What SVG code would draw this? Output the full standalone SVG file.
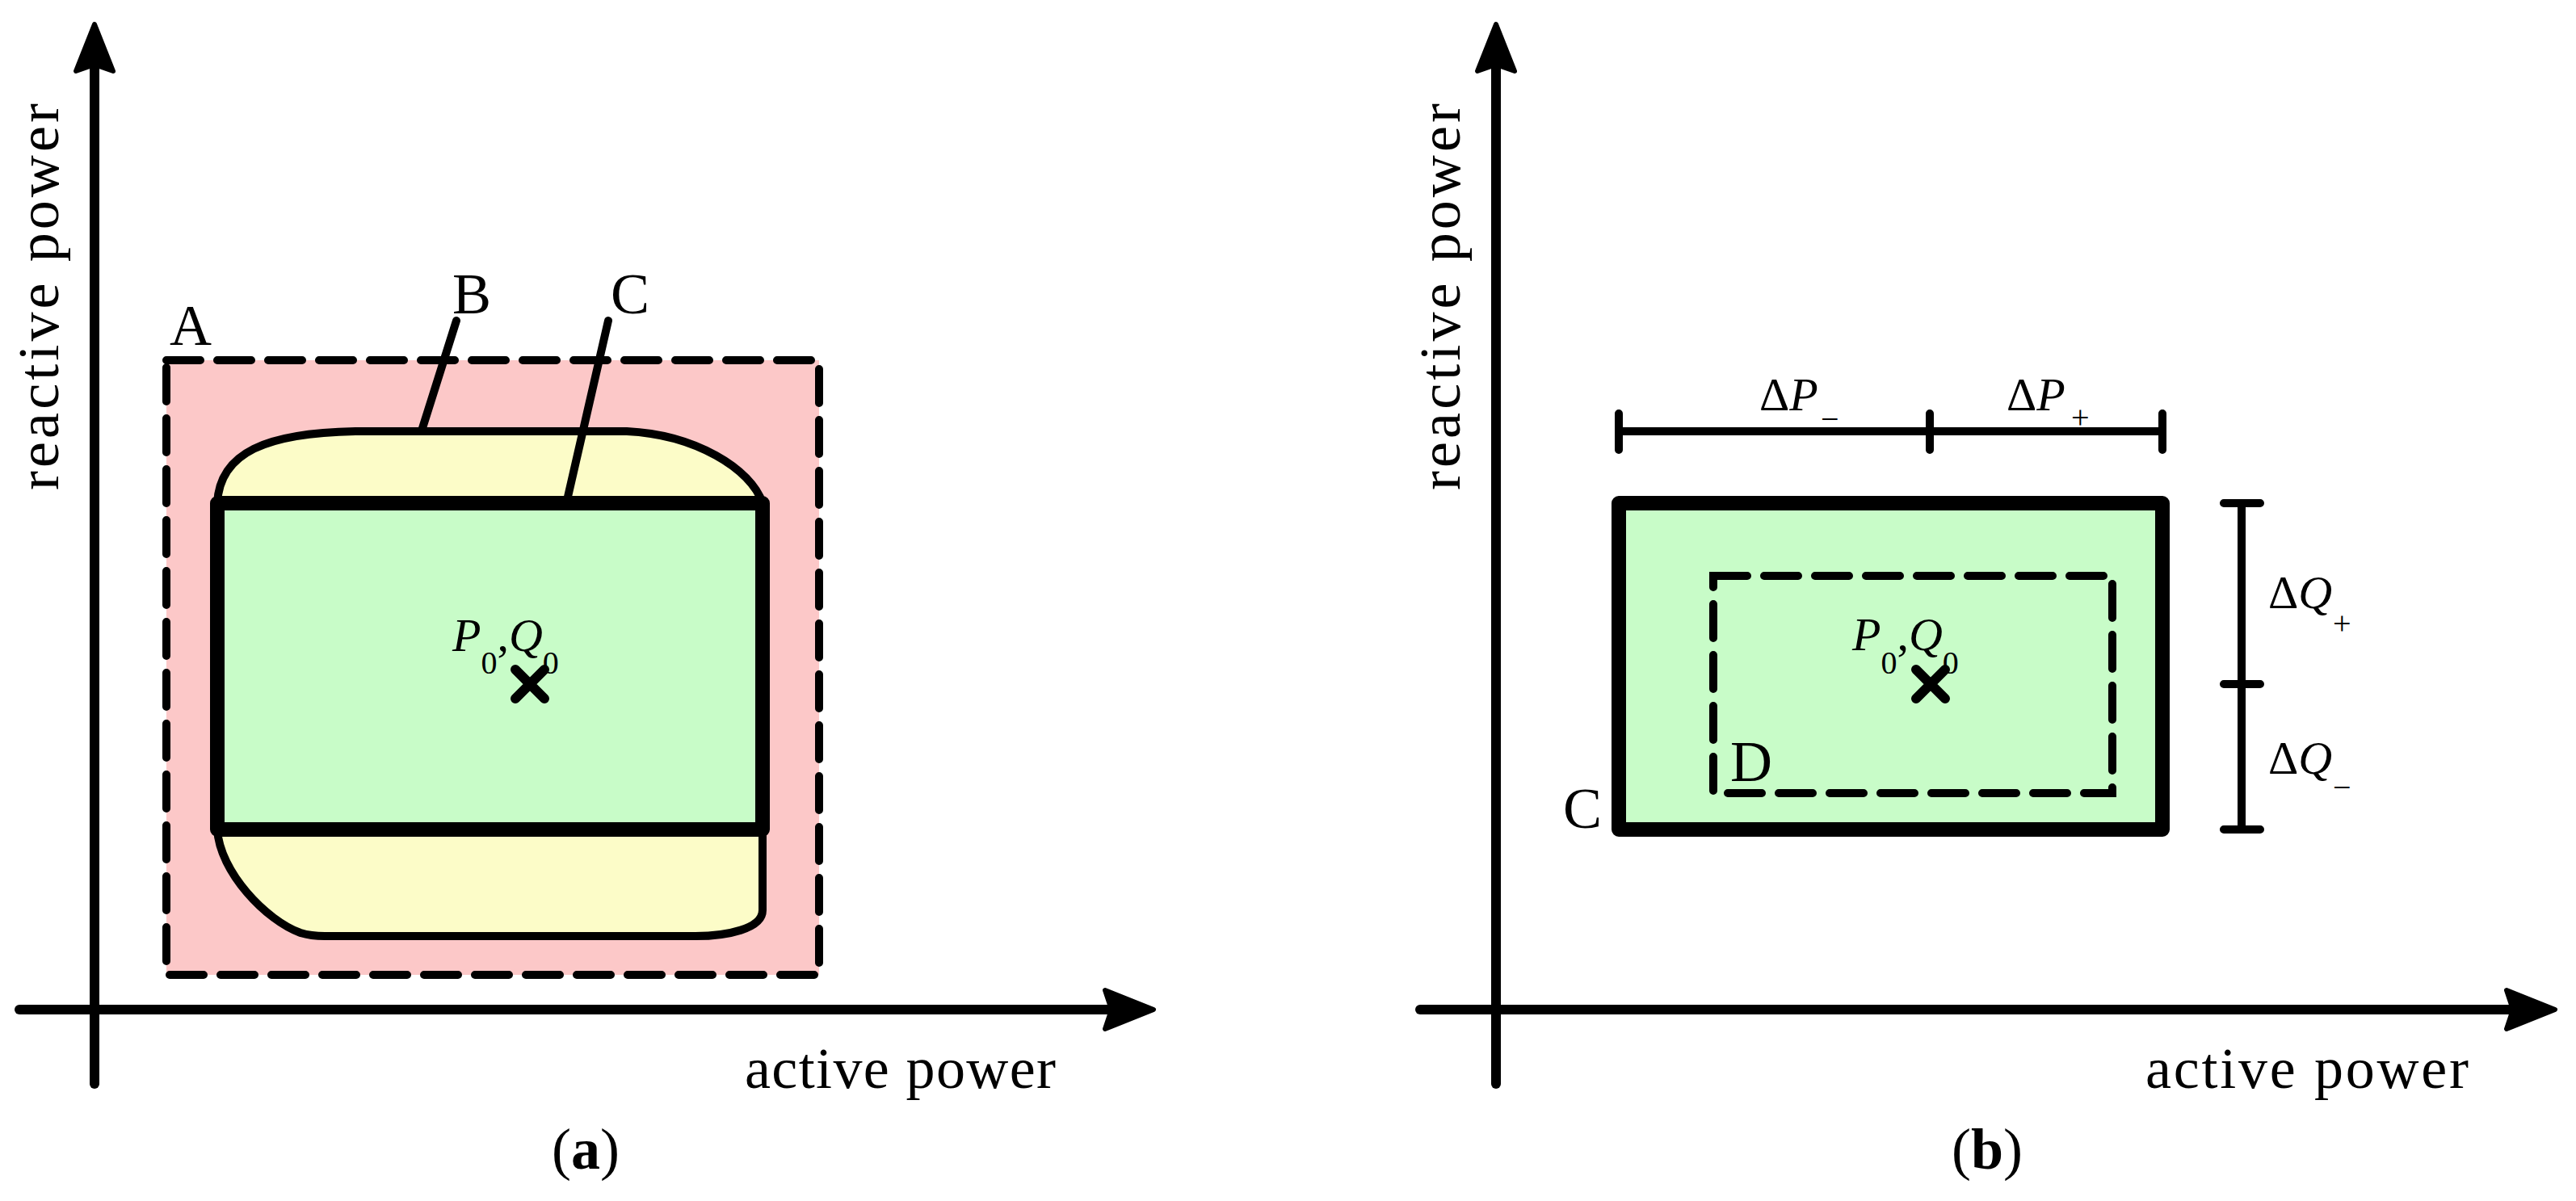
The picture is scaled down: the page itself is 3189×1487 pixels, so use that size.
<svg xmlns="http://www.w3.org/2000/svg" width="3189" height="1487" viewBox="0 0 3189 1487" font-family="'Liberation Serif', 'Times New Roman', serif">
<style>
text{font-family:'Liberation Serif','Times New Roman',serif;fill:#000}
.ax{stroke:#000;stroke-width:12;fill:none;stroke-linecap:round}
.ah{fill:#000;stroke:#000;stroke-width:6;stroke-linejoin:round}
.thick{stroke:#000;stroke-width:18;stroke-linejoin:round}
.dash{fill:none;stroke:#000;stroke-width:10;stroke-dasharray:42 21;stroke-linecap:round}
.thin{stroke:#000;stroke-width:10;stroke-linecap:round;fill:none}
.lbl{font-size:72px}
.it{font-style:italic}
.pq{font-size:58px}
.sub{font-size:40px}
</style>
<rect width="3189" height="1487" fill="#fff"/>
<g id="panel-a">
  <g id="regionA"><rect x="206" y="446" width="808" height="761" fill="#fcc8c8"/><rect class="dash" x="206" y="446" width="808" height="761"/></g>
  <g id="regionB"><path d="M269,623 C272,560 330,536 440,534 L776,534 C860,538 930,580 944,623 Z" fill="#fcfcc8" stroke="#000" stroke-width="10"/>
  <path d="M269,1027 C272,1080 330,1140 372,1155 C385,1159 395,1159 402,1159 L861,1159 C900,1159 944,1150 944,1127 L944,1027 Z" fill="#fcfcc8" stroke="#000" stroke-width="10"/></g>
  <g id="regionC"><rect class="thick" x="269" y="623" width="675" height="404" fill="#c8fcc8"/></g>
  <g id="labels-a">
    <text class="lbl" x="210" y="427">A</text>
    <text class="lbl" x="560" y="388">B</text>
    <text class="lbl" x="756" y="388">C</text>
    <text class="pq" x="560" y="806"><tspan class="it">P</tspan><tspan class="sub" dy="28">0</tspan><tspan dy="-28">,</tspan><tspan class="it">Q</tspan><tspan class="sub" dy="28">0</tspan></text>
    <path class="ax" d="M638,829 L674,865 M674,829 L638,865"/>
    <text class="lbl" x="922" y="1347" textLength="385">active power</text>
    <text class="lbl" transform="translate(72,607) rotate(-90)" x="0" y="0" textLength="479">reactive power</text>
    <text class="lbl" x="725" y="1447" text-anchor="middle">(<tspan font-weight="bold">a</tspan>)</text>
  </g>
</g>
<g id="panel-b">
  <g id="regionC-b"><rect class="thick" x="2004" y="623" width="673" height="404" fill="#c8fcc8"/></g>
  <g id="regionD"><rect class="dash" x="2121" y="713" width="494" height="269"/></g>
  <g id="labels-b">
    <text class="lbl" x="2142" y="967">D</text>
    <text class="lbl" x="1935" y="1025">C</text>
    <text class="pq" x="2293" y="805"><tspan class="it">P</tspan><tspan class="sub" dy="29">0</tspan><tspan dy="-29">,</tspan><tspan class="it">Q</tspan><tspan class="sub" dy="29">0</tspan></text>
    <path class="ax" d="M2372,829 L2408,865 M2408,829 L2372,865"/>
    <text class="pq" x="2178" y="508">Δ<tspan class="it">P</tspan></text>
    <text class="sub" x="2254" y="532">−</text>
    <text class="pq" x="2484" y="508">Δ<tspan class="it">P</tspan></text>
    <text class="sub" x="2564" y="530">+</text>
    <text class="pq" x="2808" y="753">Δ<tspan class="it">Q</tspan></text>
    <text class="sub" x="2888" y="785">+</text>
    <text class="pq" x="2808" y="958">Δ<tspan class="it">Q</tspan></text>
    <text class="sub" x="2888" y="988">−</text>
    <text class="lbl" x="2656" y="1347" textLength="400">active power</text>
    <text class="lbl" transform="translate(1807,607) rotate(-90)" x="0" y="0" textLength="479">reactive power</text>
    <text class="lbl" x="2460" y="1447" text-anchor="middle">(<tspan font-weight="bold">b</tspan>)</text>
  </g>
</g>
<g id="connectors">
  <path class="ax" d="M117,1342 L117,80"/>
  <polygon class="ah" points="117,30 140,88 117,80 94,88"/>
  <path class="ax" d="M24,1250 L1380,1250"/>
  <polygon class="ah" points="1428,1250 1368,1274 1376,1250 1368,1226"/>
  <path class="ax" d="M1852,1342 L1852,80"/>
  <polygon class="ah" points="1852,30 1875,88 1852,80 1829,88"/>
  <path class="ax" d="M1758,1250 L3115,1250"/>
  <polygon class="ah" points="3163,1250 3103,1274 3111,1250 3103,1226"/>
  <path class="thin" d="M565,397 L523,530 M753,397 L703,615"/>
  <path class="thin" d="M2004,534 L2677,534 M2004,512 L2004,557 M2389,512 L2389,557 M2677,512 L2677,557"/>
  <path class="thin" d="M2775,623 L2775,1027 M2753,623 L2798,623 M2753,847 L2798,847 M2753,1027 L2798,1027"/>
</g>
</svg>
